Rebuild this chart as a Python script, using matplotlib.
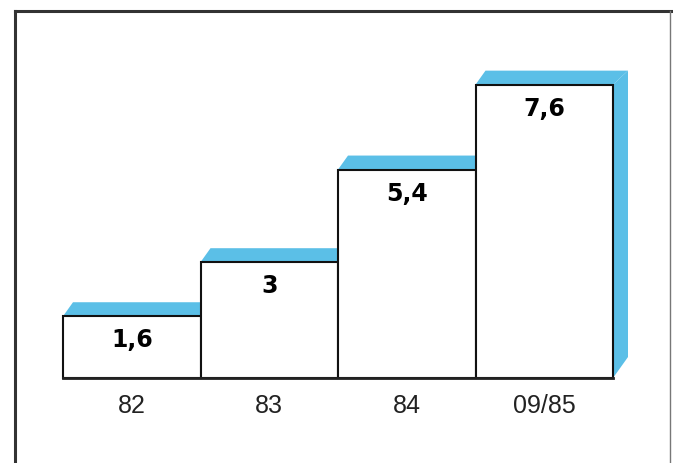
import matplotlib.pyplot as plt
from matplotlib.patches import Polygon, Rectangle
from matplotlib.lines import Line2D

# annual figures
years = ["82", "83", "84", "09/85"]
values = [1.6, 3, 5.4, 7.6]
value_labels = ["1,6", "3", "5,4", "7,6"]

W, H = 673, 464
fig = plt.figure(figsize=(W / 100, H / 100), dpi=100)
fig.patch.set_facecolor("white")

# axes placed in pixel terms so the 3d offsets can be worked out
ax_l, ax_r, ax_base, ax_top = 63, 613, 379, 39
px_per_unit = 38.6
ax = fig.add_axes([ax_l / W, (H - ax_base) / H, (ax_r - ax_l) / W, (ax_base - ax_top) / H])
ax.set_xlim(-0.5, 3.5)
ax.set_ylim(0, (ax_base - ax_top) / px_per_unit)
ax.patch.set_alpha(0)

px_x = (ax_r - ax_l) / 4.0  # pixels per bar width
dx_top = 10 / px_x
dx = 15 / px_x
dy = 14 / px_per_unit
dy_bot = 21 / px_per_unit

blue = "#5bbfe7"
label_drop = 23 / px_per_unit

for i, (v, lab) in enumerate(zip(values, value_labels)):
    x0, x1 = i - 0.5, i + 0.5
    z = 2 + i * 3
    top = Polygon([(x0, v), (x0 + dx_top, v + dy), (x1 + dx, v + dy), (x1, v)],
                  closed=True, facecolor=blue, edgecolor="none", zorder=z, clip_on=False)
    side = Polygon([(x1, v), (x1 + dx, v + dy), (x1 + dx, dy_bot), (x1, 0)],
                   closed=True, facecolor=blue, edgecolor="none", zorder=z, clip_on=False)
    ax.add_patch(side)
    ax.add_patch(top)
    ax.add_patch(Rectangle((x0, 0), 1, v, facecolor="white", edgecolor="#111111",
                           linewidth=1.5, zorder=z + 1, clip_on=False))
    ax.text(i, v - label_drop, lab, ha="center", va="center", fontsize=17,
            fontweight="heavy", color="black", zorder=z + 2)

ax.set_xticks(range(len(years)))
ax.set_xticklabels(years, fontsize=18, family=["Liberation Sans Narrow", "Liberation Sans"],
                   color="#222222")
ax.tick_params(axis="x", length=0, pad=11)
ax.set_yticks([])
for s in ["top", "left", "right"]:
    ax.spines[s].set_visible(False)
ax.spines["bottom"].set_linewidth(2)
ax.spines["bottom"].set_color("#222222")
ax.spines["bottom"].set_zorder(20)

# outer frame
fl, ft, fr = 15, 12, 670
fig.add_artist(Line2D([fl / W, 1.0], [1 - ft / H, 1 - ft / H], color="#333333", lw=2.2))
fig.add_artist(Line2D([fl / W, fl / W], [1 - ft / H, 0], color="#333333", lw=2.2))
fig.add_artist(Line2D([fr / W, fr / W], [1 - ft / H, 0], color="#777777", lw=1.0))

fig.savefig("out.png", dpi=100)
